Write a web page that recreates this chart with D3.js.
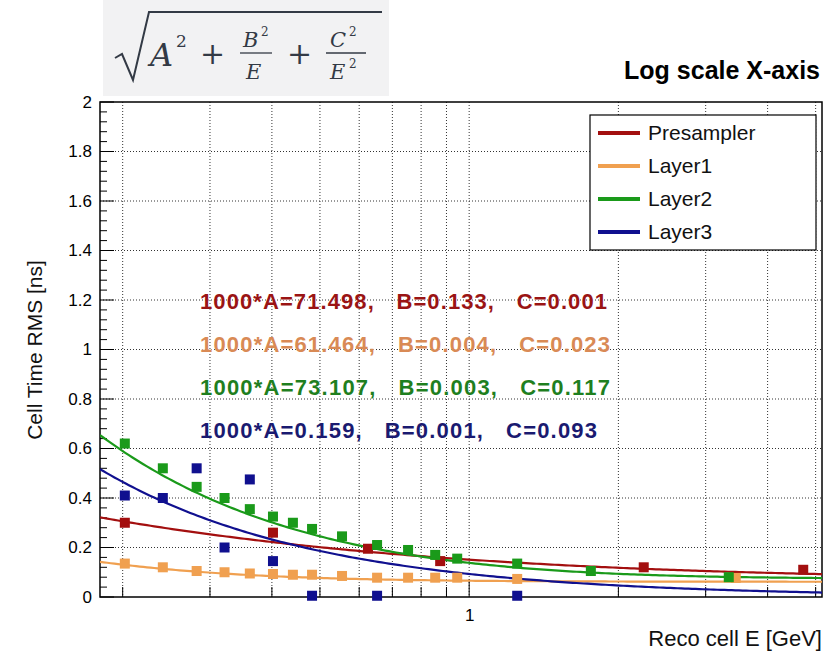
<!DOCTYPE html>
<html><head><meta charset="utf-8">
<script src="https://cdn.jsdelivr.net/npm/d3@7"></script>
<style>body{margin:0;background:#fff}svg{font-family:"Liberation Sans",Arial,sans-serif}text{white-space:pre}</style>
</head><body><svg id="c" width="825" height="657"></svg>
<script>
// data
var names = ["Presampler", "Layer1", "Layer2", "Layer3"];
var colors = ["#a30f0f", "#f0a050", "#1a9a1a", "#10108f"];
var textColors = ["#9a1414", "#d98a55", "#1f7f1f", "#1a1a70"];
var fitA = [0.071498, 0.061464, 0.073107, 0.000159];
var fitB = [0.133, 0.004, 0.003, 0.001];
var fitC = [0.001, 0.023, 0.117, 0.093];
var fitLabels = ["1000*A=71.498,   B=0.133,   C=0.001", "1000*A=61.464,   B=0.004,   C=0.023",
                 "1000*A=73.107,   B=0.003,   C=0.117", "1000*A=0.159,   B=0.001,   C=0.093"];
var fitWidths = [407, 410, 410, 397];
var redE = [0.202, 0.402, 0.625, 0.874, 2.25, 4.72];
var redV = [0.30, 0.26, 0.195, 0.145, 0.12, 0.11];
var orangeE = [0.202, 0.241, 0.282, 0.321, 0.361, 0.402, 0.441, 0.482, 0.554, 0.652, 0.753, 0.854, 0.946, 1.25, 3.45];
var orangeV = [0.135, 0.12, 0.105, 0.10, 0.095, 0.093, 0.09, 0.09, 0.085, 0.078, 0.078, 0.078, 0.078, 0.073, 0.077];
var greenE = [0.202, 0.241, 0.282, 0.321, 0.361, 0.402, 0.441, 0.482, 0.554, 0.652, 0.753, 0.854, 0.946, 1.25, 1.76, 3.34];
var greenV = [0.62, 0.52, 0.445, 0.40, 0.355, 0.325, 0.30, 0.275, 0.245, 0.21, 0.19, 0.17, 0.155, 0.135, 0.105, 0.08];
var blueE = [0.202, 0.241, 0.282, 0.321, 0.361, 0.402, 0.482, 0.652, 1.25];
var blueV = [0.41, 0.40, 0.52, 0.20, 0.475, 0.145, 0.005, 0.005, 0.005];
var pointsE = [redE, orangeE, greenE, blueE];
var pointsV = [redV, orangeV, greenV, blueV];
var yTicks = [0, 0.2, 0.4, 0.6, 0.8, 1, 1.2, 1.4, 1.6, 1.8, 2];
var xGrid = [0.2, 0.3, 0.4, 0.5, 0.6, 0.7, 0.8, 0.9, 1, 2, 3, 4, 5];

var svg = d3.select("#c");
var L = 100, R = 822, T = 102, B = 597;
var x = d3.scaleLog().domain([0.18, 5.15]).range([L, R]);
var y = d3.scaleLinear().domain([0, 2]).range([B, T]);

// grid
svg.append("g").selectAll("line").data(xGrid).join("line")
  .attr("x1", d => x(d)).attr("x2", d => x(d)).attr("y1", T).attr("y2", B)
  .attr("stroke", "#333").attr("stroke-width", 1).attr("stroke-dasharray", "1,2");
svg.append("g").selectAll("line").data(yTicks.slice(1, -1)).join("line")
  .attr("x1", L).attr("x2", R).attr("y1", d => y(d)).attr("y2", d => y(d))
  .attr("stroke", "#333").attr("stroke-width", 1).attr("stroke-dasharray", "1,2");

// axes
var yAxis = d3.axisLeft(y).tickValues(yTicks).tickFormat(d3.format("~g")).tickSize(0).tickPadding(8);
var gy = svg.append("g").attr("transform", "translate(" + L + ",0)").call(yAxis)
  .attr("font-size", 17).attr("font-family", null);
gy.select(".domain").remove();
var minorY = d3.range(0, 2.001, 0.04);
svg.append("g").selectAll("line").data(minorY).join("line")
  .attr("x1", L).attr("x2", (d, i) => L + (i % 5 === 0 ? 14 : 7))
  .attr("y1", d => y(d)).attr("y2", d => y(d)).attr("stroke", "#000");
var xAxis = d3.axisBottom(x).tickValues([1]).tickFormat(d3.format("d")).tickSize(0).tickPadding(12);
var gx = svg.append("g").attr("transform", "translate(0," + B + ")").call(xAxis)
  .attr("font-size", 17).attr("font-family", null);
gx.select(".domain").remove();
svg.append("g").selectAll("line").data(xGrid).join("line")
  .attr("x1", d => x(d)).attr("x2", d => x(d)).attr("y1", B)
  .attr("y2", d => B - (d === 1 ? 18 : 10)).attr("stroke", "#000");
svg.append("rect").attr("x", L).attr("y", T).attr("width", R - L).attr("height", B - T)
  .attr("fill", "none").attr("stroke", "#000").attr("stroke-width", 1.5);

// fit curves
svg.append("clipPath").attr("id", "pc").append("rect")
  .attr("x", L).attr("y", T).attr("width", R - L).attr("height", B - T);
var eGrid = d3.range(0, 201).map(i => 0.18 * Math.pow(5.15 / 0.18, i / 200));
var line = d3.line().x(d => x(d[0])).y(d => y(d[1]));
names.forEach(function(n, k) {
  var pts = eGrid.map(e => [e, Math.sqrt(fitA[k] * fitA[k] + fitB[k] * fitB[k] / e + fitC[k] * fitC[k] / (e * e))]);
  svg.append("path").datum(pts).attr("d", line).attr("fill", "none")
    .attr("stroke", colors[k]).attr("stroke-width", 2.2).attr("clip-path", "url(#pc)");
});
// markers
[1, 0, 2, 3].forEach(function(k) {
  svg.append("g").selectAll("rect").data(d3.zip(pointsE[k], pointsV[k])).join("rect")
    .attr("x", d => x(d[0]) - 5).attr("y", d => y(d[1]) - 5).attr("width", 10).attr("height", 10)
    .attr("fill", colors[k]);
});

// fit labels
fitLabels.forEach(function(t, k) {
  svg.append("text").attr("x", 200).attr("y", 309 + k * 43).text(t)
    .attr("font-size", 22).attr("font-weight", "bold").attr("fill", textColors[k])
    .attr("textLength", fitWidths[k]).attr("lengthAdjust", "spacing")
    .attr("stroke", "#fff").attr("stroke-width", 0.6).attr("paint-order", "stroke");
});

// legend
svg.append("rect").attr("x", 590).attr("y", 115).attr("width", 226).attr("height", 135)
  .attr("fill", "#fff").attr("stroke", "#000").attr("stroke-width", 1.2);
names.forEach(function(n, k) {
  var ly = 133 + k * 33;
  svg.append("line").attr("x1", 598).attr("x2", 640).attr("y1", ly).attr("y2", ly)
    .attr("stroke", colors[k]).attr("stroke-width", 4);
  svg.append("text").attr("x", 648).attr("y", ly + 7).text(n).attr("font-size", 21).attr("fill", "#111");
});

// axis titles
svg.append("text").attr("transform", "translate(42,350) rotate(-90)").attr("text-anchor", "middle")
  .attr("font-size", 21).attr("fill", "#111").text("Cell Time RMS [ns]");
svg.append("text").attr("x", 822).attr("y", 646).attr("text-anchor", "end")
  .attr("font-size", 22).attr("fill", "#111").text("Reco cell E [GeV]");
svg.append("text").attr("x", 820).attr("y", 79).attr("text-anchor", "end")
  .attr("font-size", 25).attr("font-weight", "bold").attr("fill", "#000").text("Log scale X-axis");

// formula box
var f = svg.append("g");
f.append("rect").attr("x", 103).attr("y", 0).attr("width", 286).attr("height", 96).attr("fill", "#f2f2f3");
f.append("path").attr("d", "M115,58 L122,54 L133,80 L149,12 L382,12")
  .attr("fill", "none").attr("stroke", "#333a45").attr("stroke-width", 2);
function ft(px, py, t, size, it) {
  f.append("text").attr("x", px).attr("y", py).text(t)
    .style("font-family", "'DejaVu Serif', serif")
    .attr("font-size", size).attr("font-style", it ? "italic" : "normal").attr("fill", "#333a45");
}
ft(150, 66, "A", 32, true); ft(176, 47, "2", 17, false);
ft(200, 64, "+", 30, false);
ft(243, 47, "B", 21, true); ft(261, 36, "2", 12, false);
f.append("line").attr("x1", 240).attr("x2", 272).attr("y1", 53).attr("y2", 53).attr("stroke", "#333a45").attr("stroke-width", 1.3);
ft(246, 79, "E", 21, true);
ft(287, 64, "+", 30, false);
ft(330, 47, "C", 21, true); ft(349, 36, "2", 12, false);
f.append("line").attr("x1", 326).attr("x2", 366).attr("y1", 53).attr("y2", 53).attr("stroke", "#333a45").attr("stroke-width", 1.3);
ft(330, 79, "E", 21, true); ft(349, 68, "2", 12, false);
</script></body></html>
